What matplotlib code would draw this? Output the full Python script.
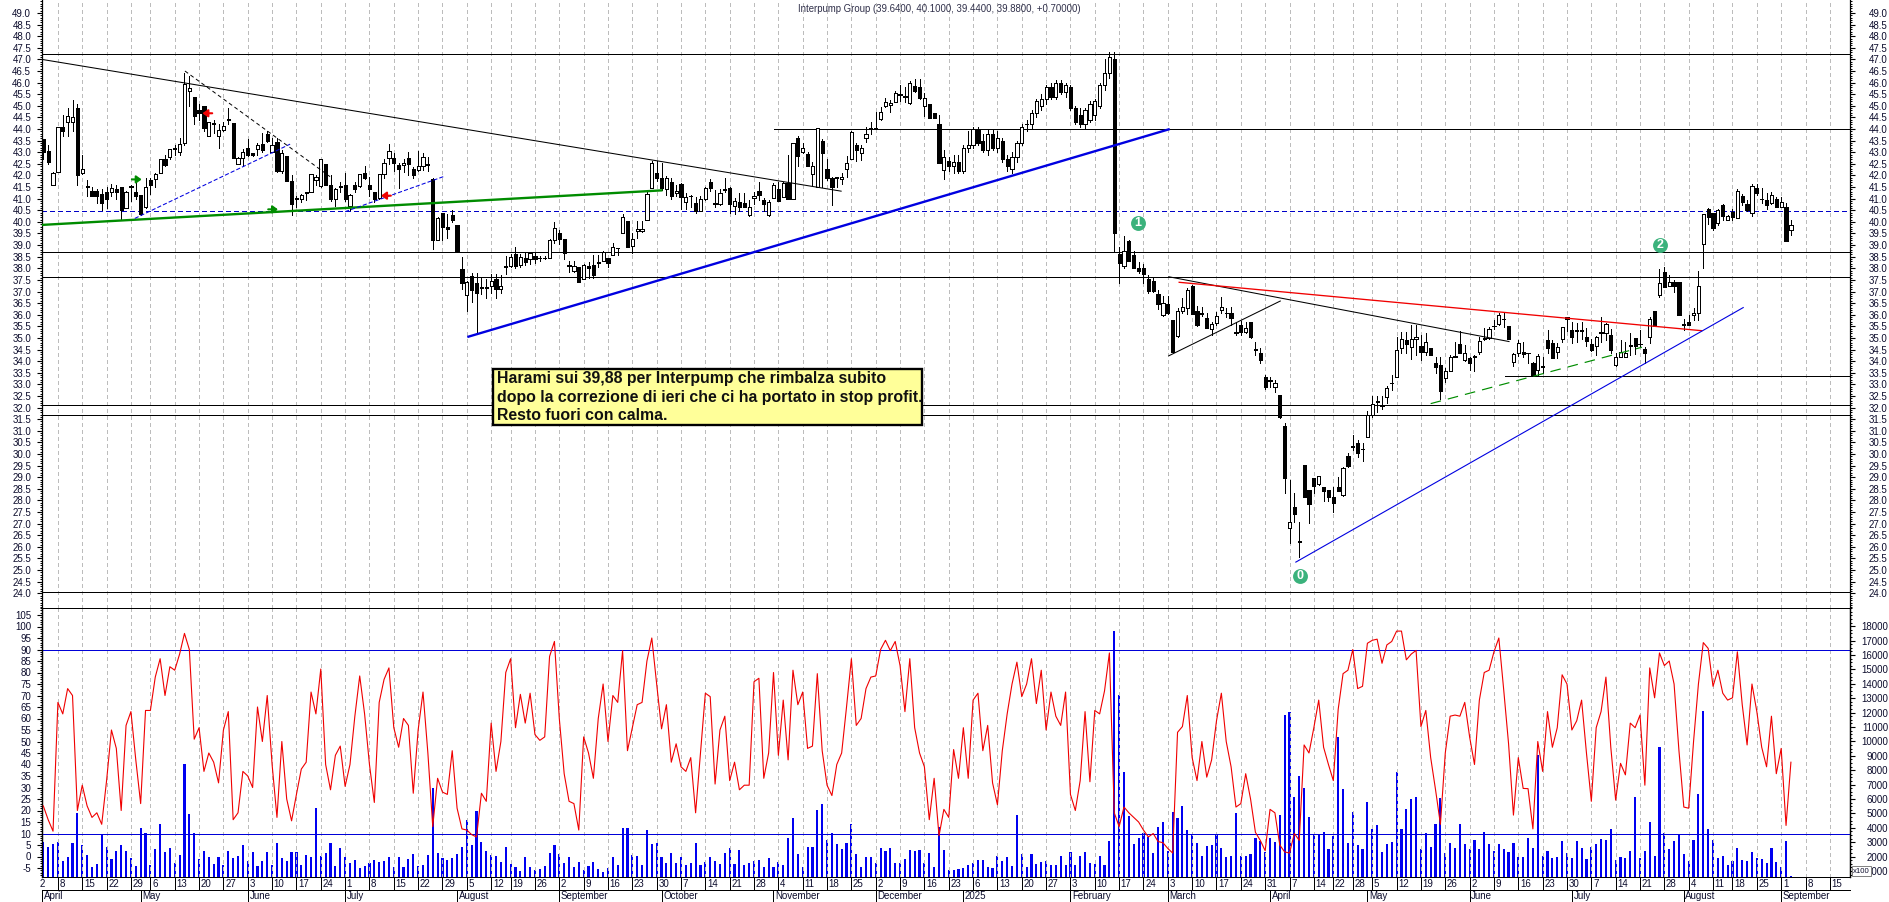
import numpy as np
import matplotlib
matplotlib.use("Agg")
import matplotlib.pyplot as plt
from matplotlib.patches import Rectangle
from matplotlib.ticker import MultipleLocator, FuncFormatter, FixedLocator
from matplotlib.transforms import blended_transform_factory

plt.rcParams['font.family'] = ['Liberation Sans', 'DejaVu Sans']

opens = [43.55,43.05,41.6,42.15,44.1,44.3,44.3,44.9,42.1,41.5,
41.35,41.35,41.2,41.3,41.3,41.4,41.5,40.6,41.5,41.3,
41.15,40.65,41.8,41.85,42.1,42.7,42.8,43.15,43.0,43.4,
45.65,45.4,44.8,45.0,43.7,44.25,43.7,43.95,44.4,44.25,
42.5,42.75,43.2,42.95,43.15,43.35,43.8,43.0,43.45,42.2,
42.85,41.75,41.0,41.0,41.25,41.3,41.8,41.55,42.5,41.6,
41.0,41.5,41.6,40.7,41.6,41.55,42.1,41.6,41.3,41.05,
42.05,42.75,42.75,42.45,42.45,42.75,42.3,42.25,42.4,42.45,
41.85,39.2,40.4,39.8,40.3,39.85,37.95,36.85,37.65,37.35,
37.2,37.2,37.25,37.55,37.1,38.05,38.1,38.6,38.15,38.43,
38.4,38.53,38.43,38.43,38.43,39.2,39.5,39.25,38.1,37.9,
38.04,37.53,38.1,38.15,38.25,38.3,38.43,38.57,38.86,39.5,
40.05,38.96,39.6,39.6,40.1,41.45,42.1,41.88,41.4,41.7,
41.23,41.63,40.84,41.1,40.8,40.48,40.97,41.7,40.77,40.77,
41.37,41.45,40.7,40.87,40.8,40.3,41.04,41.33,40.94,40.28,
41.04,41.4,41.09,41.69,41.0,43.6,43.0,42.93,42.06,41.5,
43.5,42.3,41.88,41.9,41.85,42.28,42.7,43.3,42.98,43.6,
44.03,44.05,44.42,45.0,45.02,45.18,45.47,45.4,45.13,45.85,
45.8,45.0,45.1,44.7,44.2,42.24,42.62,42.4,42.6,42.2,
43.2,43.3,44.0,43.5,43.1,43.8,43.2,43.5,42.7,42.3,
42.8,43.4,44.2,44.2,44.7,45.0,45.3,45.8,45.4,46.0,
45.6,45.8,44.9,44.6,44.2,44.4,44.6,45.0,45.9,46.4,
47.0,38.62,38.11,39.18,38.57,38.03,38.0,37.54,37.45,36.89,
35.97,36.46,35.77,35.1,36.16,36.27,37.24,36.17,36.03,35.84,
35.37,35.63,36.2,36.06,36.06,35.23,35.56,35.27,35.7,34.5,
34.34,33.3,33.16,32.9,32.54,31.2,26.8,27.7,26.22,29.53,
28.45,28.95,28.7,28.59,28.45,28.16,28.59,28.23,29.93,30.3,
30.49,30.2,30.75,31.68,32.25,32.08,32.44,33.04,33.33,34.55,
34.91,34.63,34.94,34.67,34.41,34.55,33.9,33.83,33.26,33.59,
34.19,34.74,34.05,34.12,34.17,34.41,35.01,34.98,35.5,35.59,
35.8,35.5,33.95,34.34,34.41,34.34,33.9,33.62,33.76,34.91,
34.77,34.41,34.94,35.89,35.34,35.3,35.3,35.03,34.74,34.67,
35.23,35.2,35.11,33.82,34.19,34.16,34.65,34.98,34.72,34.51,
35.03,36.16,36.85,37.83,37.25,37.42,37.4,35.56,35.69,35.97,
36.06,39.03,40.54,40.37,39.94,40.73,40.1,40.44,40.18,41.12,
40.77,40.37,41.46,40.97,40.94,40.83,40.97,40.66,40.63,39.64]

highs = [43.55,43.3,42.15,44.1,44.6,44.9,45.25,45.1,42.9,41.8,
41.5,41.4,41.4,41.5,41.65,41.6,41.5,41.35,41.6,41.7,
41.15,41.9,41.9,42.1,42.7,42.9,43.15,43.3,43.6,46.4,
46.3,45.4,45.1,45.0,44.3,44.4,44.2,44.3,44.9,44.25,
42.8,43.15,43.55,42.95,43.4,43.85,43.9,43.6,43.6,43.1,
42.85,42.0,41.1,41.2,41.3,42.05,42.0,42.7,42.5,42.0,
41.45,41.7,42.1,41.2,41.7,42.05,42.4,41.95,41.3,42.05,
42.7,43.35,42.95,42.55,42.7,43.0,42.35,43.05,42.95,42.8,
41.9,40.2,40.4,40.35,40.5,39.85,38.5,37.45,37.8,37.8,
37.6,37.55,37.75,37.75,37.7,38.55,38.6,38.9,38.6,38.65,
38.7,38.65,38.55,38.55,39.25,40.0,39.65,39.25,38.3,38.3,
38.07,38.2,38.28,38.57,38.57,38.76,38.43,39.1,38.86,40.35,
40.05,39.5,40.05,40.05,41.35,42.63,42.63,42.52,41.97,41.88,
41.6,41.66,41.23,41.18,41.06,41.1,41.52,41.83,41.37,41.4,
41.88,41.52,41.01,41.23,41.23,40.94,41.3,41.7,41.01,40.94,
41.66,41.73,41.73,42.9,43.4,43.7,43.4,43.03,42.6,44.03,
43.55,42.7,41.95,41.95,42.1,42.83,43.93,43.4,43.3,44.07,
44.3,44.75,44.95,45.33,45.25,45.66,45.9,45.83,46.05,46.17,
46.17,45.54,45.1,44.7,44.6,43.1,42.8,42.9,42.9,43.3,
43.9,44.1,44.1,43.8,44.0,44.0,43.9,43.6,42.9,43.0,
43.5,44.2,44.4,44.8,45.3,45.5,45.9,46.0,46.1,46.1,
46.0,45.9,45.0,44.9,44.9,45.2,45.3,46.0,47.0,47.3,
47.3,38.93,39.39,39.2,38.75,38.29,38.2,37.7,37.64,37.07,
36.8,36.8,35.77,36.28,36.7,37.14,37.28,36.38,36.32,36.09,
35.7,36.13,36.75,36.28,36.32,35.7,35.75,35.7,35.7,34.84,
34.58,33.4,33.33,33.2,32.54,31.32,28.88,28.3,27.06,29.53,
28.45,28.95,29.07,28.59,28.45,28.59,29.02,29.45,30.03,30.82,
30.6,30.49,31.87,32.5,32.5,32.5,32.93,33.4,35.03,35.27,
35.27,35.56,35.56,35.13,35.2,34.55,34.19,34.17,33.69,34.27,
34.84,35.31,34.7,34.19,34.27,35.05,35.41,35.48,35.77,36.06,
36.09,35.5,34.37,34.91,34.84,34.34,33.98,34.31,34.19,35.34,
34.91,34.77,35.48,35.92,35.7,35.66,35.7,35.41,34.94,35.08,
35.89,35.63,35.37,34.37,34.91,34.84,35.23,34.98,35.34,34.6,
35.92,36.16,37.96,38.04,37.71,37.5,37.4,35.8,35.99,36.28,
37.88,40.33,40.6,40.4,40.55,40.77,40.3,40.54,41.41,41.2,
40.94,41.63,41.63,41.44,41.23,41.27,41.08,41.08,40.8,40.1]

lows = [42.7,42.5,41.6,42.15,43.7,43.7,43.9,41.6,42.05,41.1,
41.1,40.8,40.5,40.6,41.1,41.0,40.1,40.6,40.9,41.0,
40.3,40.6,41.2,41.5,42.1,42.4,42.7,42.9,42.9,43.3,
45.0,44.2,44.4,43.9,43.7,43.85,43.2,43.9,44.2,42.75,
42.5,42.4,42.85,42.85,42.9,43.0,43.45,43.0,42.15,42.1,
41.75,40.3,40.65,40.85,40.95,41.3,41.6,41.5,41.6,40.9,
40.7,41.3,40.9,40.5,41.3,41.5,41.85,41.1,40.85,41.0,
41.9,42.5,42.2,41.45,42.15,42.0,41.9,42.2,42.25,42.2,
38.85,39.2,39.2,39.3,40.0,38.75,37.1,36.15,36.55,35.27,
36.9,36.7,36.95,36.7,36.95,37.75,38.05,38.0,38.05,38.15,
38.2,38.25,38.3,38.4,38.43,39.1,39.05,38.4,37.85,37.85,
37.42,37.53,37.57,37.57,38.07,38.3,38.07,38.57,38.57,39.5,
38.93,38.67,39.3,39.55,40.1,41.45,41.75,41.38,41.15,40.97,
41.1,40.54,40.54,40.66,40.37,40.48,40.94,41.34,40.66,40.73,
41.3,40.37,40.33,40.48,40.73,40.26,40.76,40.94,40.48,40.26,
41.01,40.9,41.06,40.97,41.0,42.42,42.95,42.42,41.6,41.5,
41.5,41.8,40.73,41.5,41.63,41.95,42.7,42.63,42.67,43.44,
43.8,44.0,44.38,44.96,44.75,45.18,45.21,45.18,45.1,45.61,
45.3,44.56,44.46,44.46,42.52,41.83,42.2,42.1,42.1,42.1,
43.0,43.2,43.3,43.0,42.9,43.1,43.0,42.6,42.2,42.1,
42.6,43.3,43.9,44.0,44.5,44.8,45.1,45.3,45.3,45.5,
45.4,44.8,44.2,44.1,44.0,44.3,44.4,44.9,45.7,46.2,
38.75,37.38,38.0,38.33,38.0,37.78,37.38,36.95,37.0,36.23,
35.95,36.03,34.41,35.06,36.09,36.02,36.03,35.53,35.95,35.41,
35.13,35.56,36.09,35.92,35.56,35.13,35.13,35.23,34.98,34.26,
33.93,32.8,32.87,32.69,31.54,28.3,26.18,27.09,25.58,28.13,
27.04,28.33,28.66,27.99,27.99,27.51,28.42,28.19,29.42,30.17,
29.86,29.71,30.75,31.61,31.82,31.92,32.18,32.76,33.31,34.34,
34.34,34.08,34.27,34.05,34.27,34.26,33.5,32.36,33.12,33.59,
34.16,34.37,34.02,33.62,33.59,34.31,34.91,34.94,35.37,35.54,
35.49,34.95,33.79,34.22,34.19,33.91,33.36,33.4,33.47,34.37,
34.15,34.15,34.84,35.31,34.77,34.84,34.94,34.65,34.45,34.27,
34.84,34.91,34.34,33.79,34.16,34.16,34.27,34.31,34.65,33.91,
34.77,35.5,36.78,37.21,37.24,36.99,35.99,35.34,35.57,35.77,
35.77,38.03,39.9,39.65,39.86,40.08,40.08,40.08,40.18,40.73,
40.48,40.26,41.16,40.8,40.55,40.77,40.63,40.66,39.19,39.44]

closes = [43.0,42.6,42.1,44.1,43.9,44.55,44.5,42.0,42.3,41.5,
41.1,41.1,40.8,41.0,41.45,41.3,40.5,41.3,41.55,41.1,
40.35,41.5,41.6,42.05,42.7,42.45,43.15,43.15,43.35,45.95,
45.75,44.55,44.7,44.05,44.3,44.2,43.95,44.15,44.4,42.75,
42.75,43.0,42.9,42.9,43.3,43.1,43.5,43.3,42.2,42.95,
41.75,40.75,41.0,41.15,41.25,42.05,41.95,42.7,41.6,41.0,
41.4,41.5,41.0,41.15,41.4,42.05,41.9,41.4,41.0,42.05,
42.55,43.05,42.55,42.3,42.55,42.5,42.0,42.4,42.8,42.45,
39.2,40.15,39.8,39.7,40.1,38.75,37.35,37.4,37.05,36.95,
37.15,37.15,37.45,37.1,37.25,38.05,38.5,38.1,38.5,38.29,
38.65,38.4,38.43,38.43,39.2,39.75,39.27,38.67,38.1,38.1,
37.42,38.16,38.0,37.7,38.25,38.7,38.25,38.9,38.86,40.2,
38.93,39.25,39.68,39.7,41.2,42.52,41.9,41.45,41.88,41.13,
41.34,41.06,41.06,41.1,40.48,40.98,41.45,41.47,40.77,41.23,
41.37,40.77,40.9,40.63,40.66,40.66,41.13,41.16,40.77,40.84,
41.6,40.9,41.66,40.97,43.4,42.85,43.2,42.42,42.42,44.03,
42.95,41.9,41.5,41.9,41.95,42.52,43.89,43.1,43.2,43.8,
44.03,44.0,44.75,45.18,45.14,45.54,45.47,45.4,46.0,45.65,
45.32,45.35,44.46,44.46,42.55,42.8,42.42,42.6,42.2,43.2,
43.3,44.0,43.4,43.1,43.8,43.2,43.6,42.7,42.4,42.8,
43.4,44.1,44.2,44.7,45.2,45.3,45.8,45.4,46.0,45.6,
45.9,44.9,44.3,44.2,44.8,45.1,45.2,45.9,46.4,47.1,
39.5,38.24,38.76,38.33,38.0,37.88,37.74,37.02,37.04,36.46,
36.49,36.06,34.41,36.17,36.32,37.07,36.03,35.56,36.03,35.44,
35.59,35.96,36.35,36.06,35.84,35.23,35.27,35.41,35.05,34.5,
34.05,32.87,33.16,33.04,31.58,28.95,27.09,27.4,26.22,28.13,
27.85,28.64,29.07,28.42,28.13,27.9,28.42,29.38,29.48,30.3,
30.06,30.2,31.68,32.15,32.25,32.08,32.83,33.04,34.48,34.94,
34.74,34.94,35.05,34.38,34.84,34.26,33.73,32.73,33.59,34.19,
34.19,34.37,34.37,33.93,34.23,34.87,34.94,35.4,35.5,36.0,
35.8,34.95,34.29,34.8,34.31,34.34,33.4,34.23,33.76,34.58,
34.15,34.6,35.46,35.8,35.05,35.3,35.3,34.87,34.48,35.03,
35.23,35.59,34.48,34.16,34.41,34.34,34.65,34.65,34.72,34.37,
35.8,35.5,37.35,37.21,37.4,37.24,35.99,35.56,35.57,36.06,
37.25,40.33,40.22,39.75,40.51,40.27,40.24,40.22,41.33,40.87,
40.51,41.55,41.23,40.97,40.73,41.14,40.66,40.86,39.19,39.88]

stoch = [22,16,11,67,62,73,70,20,31,22,
17,19,14,33,55,47,20,57,63,42,
23,63.5,63.5,78,86,70,82.5,81,88,97,
90,51,56,37,45,41,32,55,63,16,
19,37,35,30,65,50,70,40,17,50,
25,15.5,27,38,41,71.5,62,81.5,40,29,
44,48,30.5,40,61,78.5,62,40,23.5,67,
77,82,56,47.5,60,57,27.5,55,71.5,45,
13,34,28,27,46,21,12,11.5,9.5,8.5,
27.5,24,58,37,50,80,86,56,70.5,58,
71,53,50.5,52,87,93.5,60,36,24,23,
11.5,52,45,34,60,75,50,70,67,89.5,
46,56,66,67,85,95,75,55.5,66,41,
49,39,37,43,19,45,71,69.5,31.5,55,
61,33,41,29,31,31,76,77.5,34,45,
80,44,68,42,81,66,71.5,47,48,79.5,
46,31,26.5,40,45,65,86,57,60,73,
78,78.5,90,94,89.5,93.5,83,63,86,56,
45,39,16,34,9,20.5,17,46.5,34,56,
34,68,71,46,57,32,22.5,46,62,75,
84.5,69.5,75,86,66.5,81,55,71.5,61,57,
71.5,27,20,33,63,32.5,63.5,62,72,88.5,
19,13,21.5,19,17,15,11.5,8.5,10,6.5,
6,3.5,1.5,54,56.5,70,43,33,50,34.5,
42,59,71,50,39,21.5,23,36,25,10.5,
7,2.5,20.5,19,5,2,1.5,10,7,48.5,
45,56,68,47.5,40,33,64,79.5,81,90,
73,74,92.7,94,94.5,84,92,93.5,98,98,
85.5,88,89.6,56.5,63.5,43,29,14,45,61,
61.5,61,67,52,40,68,80,81,89,95,
72.5,49,18,43,29.6,29.5,12,50,37,63,
47.5,56,79,75,55,59,68,45,24,56,
63,78,47.5,24.5,40.5,35.5,58,56,61.5,31,
82,69,88.5,83,85,75,46,21.5,21,50,
75,93,90.5,74,81,71,68,69,89,66,
48.5,75,63,47.5,39,61,36,47,13.5,41]

volume = [3000,2700,2850,3000,1670,2000,2970,5000,2800,2090,
1300,1480,3600,2700,1830,2390,2800,2390,1880,1345,
3960,3660,1415,2550,4240,2300,2570,1530,2110,8430,
4960,3620,1810,2410,1950,1480,1950,1415,2390,1880,
2040,2800,1690,2300,1350,1690,2300,1390,2920,1880,
1670,2300,2340,1415,2110,2000,5350,2040,2220,2920,
1345,2570,1995,1580,1760,1180,1345,1580,1760,1650,
1720,1995,1250,1995,1250,1810,2180,1345,1390,2110,
6740,2225,1900,1760,1880,2180,2640,4540,2780,5165,
3035,2410,2110,2040,1600,2640,1480,1300,1020,1950,
1300,1070,1160,1345,2270,2800,2160,1530,1995,1300,
1650,1070,1345,1650,1140,905,1230,1995,1415,3960,
3985,2110,2040,1390,3850,2900,2940,1950,1530,2225,
1580,1950,1390,1580,2970,1390,1650,1995,1690,1480,
2270,2570,1460,2435,1440,1530,1690,1760,1300,1925,
1300,1650,1415,3270,4680,2180,1300,2640,2640,5240,
5675,3150,3620,2875,2550,2920,4260,2180,1250,1995,
1995,1530,2570,2365,2570,1530,1580,1830,2460,2410,
2460,1580,2225,1250,4080,2460,1070,1070,1110,1180,
1415,1580,1760,1760,1300,1230,2040,1670,2000,1370,
4890,2180,1250,2180,1480,1600,1670,1415,1415,2040,
1415,2300,1415,2040,2300,1580,1480,2040,1415,3110,
17670,13220,7900,4840,2870,3270,3620,3380,2270,4030,
4420,2410,5120,4700,5510,3850,3570,2920,2040,2760,
2800,3570,2570,2000,2040,5030,2040,2040,2180,3270,
3110,2340,3290,3035,4890,11830,12060,6160,7600,6790,
4730,3570,3500,3730,2500,3450,10330,6690,2920,5070,
2800,2500,5810,3920,4190,2320,2870,3035,7900,3920,
5300,5970,6160,2500,3620,2640,4240,6040,2270,2920,
2620,4260,2870,2530,3150,2530,3730,2850,2410,2870,
2500,2320,2920,1950,2000,3270,2570,9055,2040,2390,
1880,1950,3080,2270,1925,3080,2620,1860,2640,2870,
3220,3150,3920,1760,1950,1880,2410,6160,1880,2410,
4420,2040,9630,3620,2500,3080,3500,2180,1720,3150,
6320,12110,3920,3150,1880,2040,1415,1720,2570,1760,
1720,2320,1880,1830,1580,2570,1650,1300,3080,650]

assert all(len(a) == 360 for a in (opens, highs, lows, closes, stoch, volume))

week_ticks = [3,8,13,18,22,27,32,37,42,47,52,57,62,67,72,77,82,87,92,96,101,106,111,116,121,126,
131,136,141,146,151,156,161,166,171,176,181,186,191,196,201,206,211,216,221,226,231,236,241,246,
251,256,261,265,269,273,278,283,288,293,298,303,308,313,318,323,328,333,338,343,347,352,357,362,367]
week_labels = ['8','15','22','29','6','13','20','27','3','10','17','24','1','8','15','22','29','5','12','19','26',
'2','9','16','23','30','7','14','21','28','4','11','18','25','2','9','16','23','6','13','20','27','3','10','17','24',
'3','10','17','24','31','7','14','22','28','5','12','19','26','2','9','16','23','30','7','14','21','28','4','11','18',
'25','1','8','15']
month_ticks = [-0.2,20,42,62,85,106,127,150,171,189,211,231,252,272,293,314,337,357]
month_labels = ['April','May','June','July','August','September','October','November','December','2025',
'February','March','April','May','June','July','August','September']

W, H = 1890, 902
X0, DX = 43.3, 4.868
L, R = 42, 1850
THIN = 0.72  # one pixel at 100 dpi
def ix(px): return (px - X0) / DX

fig = plt.figure(figsize=(W/100, H/100), dpi=100, facecolor='white')
def axes_px(x0, y0, x1, y1, **kw):
    return fig.add_axes([x0/W, 1-y1/H, (x1-x0)/W, (y1-y0)/H], **kw)

LBL = '#0c0c2c'
FS = 7.0
ax = axes_px(L, 0, R, 608)
lo = axes_px(L, 608, R, 877, sharex=ax)
vol = lo.twinx()
dt = axes_px(L, 877, R, 902, sharex=ax)
ax.set_xlim(ix(L), ix(R))
p_at = lambda y: 49 - (y - 13) / 23.21
ax.set_ylim(p_at(608), p_at(0))
lo.set_ylim(90 - (877-649.5)/2.3, 90 + (649.5-608)/2.3)
vol.set_ylim((885.4-877)/14.4*1000, (885.4-608)/14.4*1000)

for a in (ax, lo):
    a.xaxis.set_major_locator(FixedLocator(week_ticks))
    a.grid(axis='x', color='#bcbcbc', lw=THIN, ls=(0, (3.6, 4.0)), antialiased=False)
    a.set_axisbelow(True)
    a.tick_params(axis='x', length=0, labelbottom=False)
    a.spines['top'].set_visible(False)
    a.spines['bottom'].set_visible(False)
vol.spines['top'].set_visible(False)
vol.spines['bottom'].set_visible(False)
vol.set_zorder(lo.get_zorder() - 1)
lo.patch.set_visible(False)

# price axis
ax.yaxis.set_major_locator(FixedLocator(np.arange(24, 49.01, 0.5)))
ax.yaxis.set_major_formatter(FuncFormatter(lambda v, p: f'{v:.1f}'))
ax.yaxis.set_minor_locator(MultipleLocator(0.1))
ax.tick_params(axis='y', which='major', left=True, right=True, labelleft=True, labelright=True,
               length=3.6, width=0.8, pad=4.2, labelsize=FS, labelcolor=LBL)
ax.tick_params(axis='y', which='minor', left=True, right=True, length=1.6, width=0.7)
label_tf = blended_transform_factory(fig.transFigure, ax.transData)
for tick in ax.yaxis.get_major_ticks():
    tick.label2.set_ha('right')
    tick.label2.set_transform(label_tf)
    tick.label2.set_x(1887.8 / W)

# lower axes
lo.yaxis.set_major_locator(FixedLocator(np.arange(-5, 105.1, 5)))
lo.yaxis.set_major_formatter(FuncFormatter(lambda v, p: f'{v:.0f}'))
lo.yaxis.set_minor_locator(MultipleLocator(1))
lo.tick_params(axis='y', which='major', left=True, right=False, length=3.6, width=0.8, pad=4.2,
               labelsize=FS, labelcolor=LBL)
lo.tick_params(axis='y', which='minor', left=True, right=False, length=1.6, width=0.7)
vol.yaxis.set_major_locator(FixedLocator(np.arange(1000, 18001, 1000)))
vol.yaxis.set_major_formatter(FuncFormatter(lambda v, p: f'{v:.0f}'))
vol.yaxis.set_minor_locator(MultipleLocator(250))
vol.tick_params(axis='y', which='major', right=True, left=False, length=3.6, width=0.8, pad=23.8,
                labelsize=FS, labelcolor=LBL)
vol.tick_params(axis='y', which='minor', right=True, left=False, length=1.6, width=0.7)
for t in vol.get_yticklabels():
    t.set_ha('right')

# reference levels
h_full = [47.25, 38.69, 37.61, 32.09, 31.67, 24.07]
for lv in h_full:
    ax.axhline(lv, color='black', lw=THIN, antialiased=False, zorder=2)
ax.hlines(44.0, ix(774), ix(R), color='black', lw=THIN, antialiased=False, zorder=2)
ax.hlines(33.35, ix(1505), ix(R), color='black', lw=THIN, antialiased=False, zorder=2)
ax.axhline(40.45, color='#0000c8', lw=THIN, ls=(0, (4.6, 3.6)), zorder=2, antialiased=False)

# candles
xs = np.arange(len(closes))
o, hi, lw_, c = map(np.array, (opens, highs, lows, closes))
ax.vlines(xs, lw_, hi, color='black', lw=0.7, zorder=3, antialiased=False)
top = np.maximum(o, c)
bot = np.minimum(o, c)
up = c >= o
ax.bar(xs[up], np.maximum(top[up]-bot[up], 0.03), bottom=bot[up], width=0.66, facecolor='white',
       edgecolor='black', linewidth=0.7, zorder=4, antialiased=False)
ax.bar(xs[~up], np.maximum(top[~up]-bot[~up], 0.03), bottom=bot[~up], width=0.66, facecolor='black',
       edgecolor='black', linewidth=0.7, zorder=4, antialiased=False)

# trend lines
lines = [
    ((ix(L), 47.0), (164.0, 41.32), 'black', 0.75, '-'),
    ((ix(L), 39.87), (127.2, 41.36), '#008c00', 1.7, '-'),
    ((87.1, 35.04), (231.4, 44.0), '#0000e0', 1.7, '-'),
    ((18.8, 40.15), (50.7, 43.35), '#0000e0', 0.75, (0, (4, 2))),
    ((62.0, 40.44), (82.2, 41.95), '#0000e0', 0.75, (0, (4, 2))),
    ((29.1, 46.5), (58.9, 41.95), 'black', 0.7, (0, (4, 3))),
    ((231.1, 37.64), (301.2, 34.84), 'black', 0.75, '-'),
    ((233.2, 37.4), (340.8, 35.31), '#f00000', 0.95, '-'),
    ((231.1, 34.22), (254.2, 36.6), 'black', 0.75, '-'),
    ((257.2, 25.33), (349.3, 36.32), '#0000e0', 0.8, '-'),
    ((285.0, 32.17), (328.4, 34.6), '#008c00', 0.85, (0, (9, 6))),
]
for (x1, y1), (x2, y2), col, w, st in lines:
    ax.plot([x1, x2], [y1, y2], color=col, lw=w, ls=st, zorder=5, solid_capstyle='butt')

# small arrows
arrows = [((18.2, 41.83), (20.2, 41.83), '#008c00'), ((46.2, 40.54), (48.2, 40.54), '#008c00'),
          ((34.7, 44.68), (32.7, 44.68), '#f00000'), ((71.4, 41.13), (69.4, 41.13), '#f00000')]
for tail, head, col in arrows:
    ax.annotate('', xy=head, xytext=tail, zorder=6,
                arrowprops=dict(arrowstyle='-|>,head_width=0.22,head_length=0.3', color=col, lw=1.5,
                                shrinkA=0, shrinkB=0))

# numbered wave markers
wave_x = [224.9, 258.2, 332.2]
wave_y = [39.96, 24.74, 38.99]
wave_t = ['1', '0', '2']
ax.scatter(wave_x, wave_y, s=115, color='#3bb27c', zorder=6, linewidths=0)
for wx, wy, wt in zip(wave_x, wave_y, wave_t):
    ax.text(wx, wy, wt, color='white', ha='center', va='center', fontsize=9, fontweight='bold', zorder=7)

# lower panel
lo.axhline(90, color='#0000d8', lw=THIN, zorder=2, antialiased=False)
lo.axhline(10, color='#0000d8', lw=THIN, zorder=2, antialiased=False)
vol.bar(xs, np.array(volume) - vol.get_ylim()[0], bottom=vol.get_ylim()[0], width=0.44,
        color='#0000f0', linewidth=0, zorder=3)
lo.plot(xs, stoch, color='#f00000', lw=0.8, zorder=4)

for sp in ('left', 'right'):
    ax.spines[sp].set_linewidth(0.9)
    lo.spines[sp].set_linewidth(0.9)
    vol.spines[sp].set_linewidth(0.9)

# separators
for y in (608, 877, 890):
    fig.add_artist(plt.Line2D([L/W, R/W], [1-y/H, 1-y/H], color='black', lw=THIN, antialiased=False))

# date axis
dt.set_ylim(25, 0)
dt.axis('off')
dt.vlines(week_ticks, 0, 13, color='black', lw=THIN, antialiased=False)
dt.vlines(month_ticks, 13, 25, color='black', lw=THIN, antialiased=False)
for t, s in zip(week_ticks, week_labels):
    dt.annotate(s, (t, 6.6), xytext=(1.2, 0), textcoords='offset points', ha='left', va='center',
                fontsize=FS, color=LBL, annotation_clip=False)
dt.annotate('2', (ix(38), 6.6), xytext=(1.2, 0), textcoords='offset points', ha='left', va='center',
            fontsize=FS, color=LBL, annotation_clip=False)
for t, s in zip(month_ticks, month_labels):
    dt.annotate(s, (t, 19.2), xytext=(1.2, 0), textcoords='offset points', ha='left', va='center',
                fontsize=FS, color=LBL, annotation_clip=False)

# title
fig.text(797.7/W, 1-8.7/H, 'Interpump Group (39.6400, 40.1000, 39.4400, 39.8800, +0.70000)',
         ha='left', va='center', fontsize=6.9, color='#30304a')

# note box
fig.add_artist(Rectangle((493.4/W, 1-425/H), (922-493.4)/W, (425-369)/H, transform=fig.transFigure,
                         facecolor='#ffff99', edgecolor='black', lw=1.7, zorder=10))
note_lines = ['Harami sui 39,88 per Interpump che rimbalza subito',
              'dopo la correzione di ieri che ci ha portato in stop profit.',
              'Resto fuori con calma.']
for s, y in zip(note_lines, (378.7, 397.3, 415.7)):
    fig.text(497/W, 1-y/H, s, ha='left', va='center', fontsize=11.4, fontweight='bold',
             color='#101010', zorder=11)

# scale factor tag
fig.add_artist(Rectangle((1852/W, 1-876/H), 19/W, 10/H, transform=fig.transFigure, facecolor='white',
                         edgecolor='#808080', lw=0.7, zorder=10))
fig.text(1861.5/W, 1-871.2/H, 'x100', ha='center', va='center', fontsize=5.6, color=LBL, zorder=11)

fig.savefig('out.png', dpi=100, facecolor='white')
